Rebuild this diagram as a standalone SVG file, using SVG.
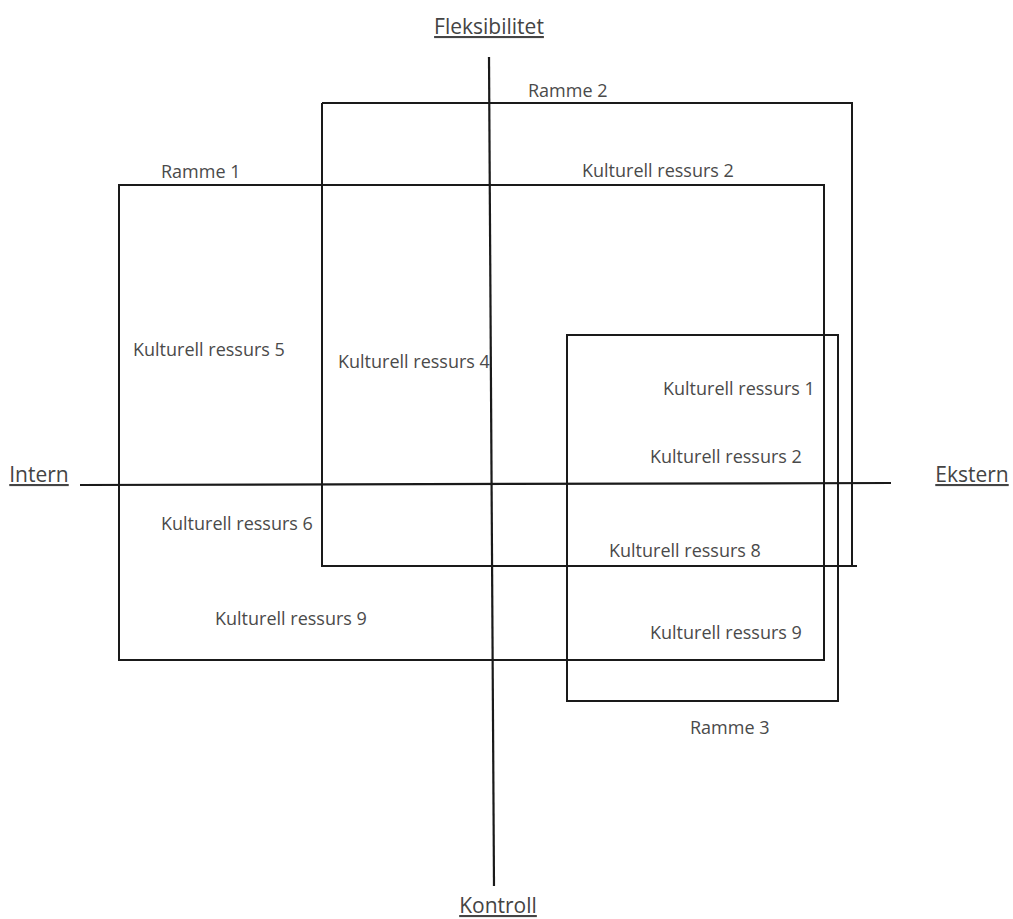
<svg xmlns="http://www.w3.org/2000/svg" width="1013" height="919" viewBox="0 0 1013 919">
<style>
.frame{fill:none;stroke:#1a1a1a;stroke-width:2}
.axis{stroke:#1a1a1a;stroke-width:2.2;fill:none}
.lbl{font-family:"Open Sans","Noto Sans",sans-serif;font-size:18px;fill:#4a4a4a}
.ax{font-family:"Open Sans","Noto Sans",sans-serif;font-size:21px;fill:#444;text-decoration:underline}
</style>
<rect width="1013" height="919" fill="#fff"/>
<g id="ramme2"><path class="frame" d="M322,103 H852 V566 M322,103 V566 H857"/><text class="lbl" x="528" y="97">Ramme 2</text></g>
<g id="ramme1"><rect class="frame" x="119" y="185" width="705" height="475"/><text class="lbl" x="161" y="178">Ramme 1</text></g>
<g id="ramme3"><rect class="frame" x="567" y="335" width="271" height="366"/><text class="lbl" x="690" y="734">Ramme 3</text></g>
<g id="connectors">
<line class="axis" x1="489" y1="57" x2="494" y2="886"/>
<line class="axis" x1="80" y1="485" x2="891" y2="483"/>
</g>
<g id="axis-labels">
<text class="ax" x="489" y="34" text-anchor="middle">Fleksibilitet</text>
<text class="ax" x="39" y="482" text-anchor="middle">Intern</text>
<text class="ax" x="972" y="482" text-anchor="middle">Ekstern</text>
<text class="ax" x="498" y="913" text-anchor="middle">Kontroll</text>
</g>
<g id="resources">
<text class="lbl" x="582" y="177">Kulturell ressurs 2</text>
<text class="lbl" x="133" y="356">Kulturell ressurs 5</text>
<text class="lbl" x="338" y="368">Kulturell ressurs 4</text>
<text class="lbl" x="663" y="395">Kulturell ressurs 1</text>
<text class="lbl" x="650" y="463">Kulturell ressurs 2</text>
<text class="lbl" x="161" y="530">Kulturell ressurs 6</text>
<text class="lbl" x="609" y="557">Kulturell ressurs 8</text>
<text class="lbl" x="215" y="625">Kulturell ressurs 9</text>
<text class="lbl" x="650" y="639">Kulturell ressurs 9</text>
</g>
</svg>
